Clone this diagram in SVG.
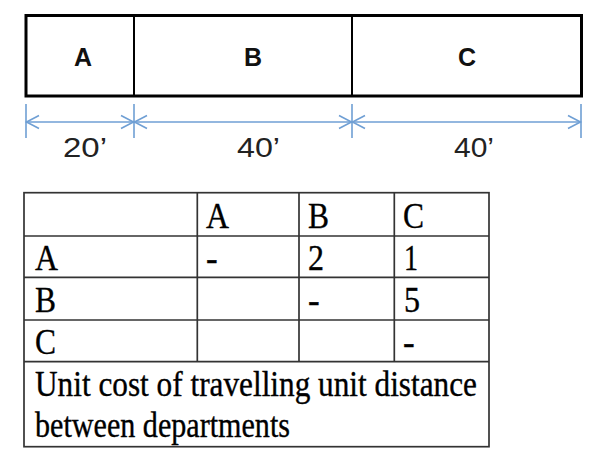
<svg xmlns="http://www.w3.org/2000/svg" width="600" height="462" viewBox="0 0 600 462">
<defs>
<style>
.box{fill:#fff;stroke:#000;stroke-width:3}
.div{stroke:#000;stroke-width:2}
.dim{stroke:#6f9fd4;stroke-width:1.6;fill:none}
.lbl{font-family:"Liberation Sans",Arial,sans-serif;font-weight:bold;font-size:25px;text-anchor:middle;fill:#111}
.dt{font-family:"Liberation Sans",Arial,sans-serif;font-size:27px;text-anchor:middle;fill:#222}
.grid{stroke:#333;stroke-width:1.7;fill:none}
.tt{font-family:"Liberation Serif","Times New Roman",serif;font-size:35px;fill:#000;stroke:#000;stroke-width:0.35}
</style>
</defs>
<rect width="600" height="462" fill="#fff"/>
<g id="layout">
<rect class="box" x="26" y="15.5" width="555.5" height="80.5"/>
<line class="div" x1="134" y1="15.5" x2="134" y2="96"/>
<line class="div" x1="352" y1="15.5" x2="352" y2="96"/>
<text class="lbl" x="83" y="66">A</text>
<text class="lbl" x="253" y="66">B</text>
<text class="lbl" x="467" y="66">C</text>
</g>
<g id="dimensions">
<line class="dim" x1="26" y1="104" x2="26" y2="138"/>
<line class="dim" x1="134" y1="104" x2="134" y2="138"/>
<line class="dim" x1="352" y1="104" x2="352" y2="138"/>
<line class="dim" x1="581" y1="104" x2="581" y2="138"/>
<line class="dim" x1="26" y1="122" x2="581" y2="122"/>
<path class="dim" d="M39,115.5 L26.5,122 L39,128.5"/>
<path class="dim" d="M121,115.5 L133.5,122 L121,128.5"/>
<path class="dim" d="M147,115.5 L134.5,122 L147,128.5"/>
<path class="dim" d="M339,115.5 L351.5,122 L339,128.5"/>
<path class="dim" d="M365,115.5 L352.5,122 L365,128.5"/>
<path class="dim" d="M568,115.5 L580.5,122 L568,128.5"/>
<text class="dt" x="85" y="157" textLength="44" lengthAdjust="spacingAndGlyphs">20’</text>
<text class="dt" x="258.5" y="157" textLength="43" lengthAdjust="spacingAndGlyphs">40’</text>
<text class="dt" x="474" y="157" textLength="40" lengthAdjust="spacingAndGlyphs">40’</text>
</g>
<g id="table">
<rect class="grid" x="24" y="192.7" width="465" height="254"/>
<line class="grid" x1="24" y1="236" x2="489" y2="236"/>
<line class="grid" x1="24" y1="277.3" x2="489" y2="277.3"/>
<line class="grid" x1="24" y1="320" x2="489" y2="320"/>
<line class="grid" x1="24" y1="361.7" x2="489" y2="361.7"/>
<line class="grid" x1="197.3" y1="192.7" x2="197.3" y2="361.7"/>
<line class="grid" x1="299" y1="192.7" x2="299" y2="361.7"/>
<line class="grid" x1="394.3" y1="192.7" x2="394.3" y2="361.7"/>
<text class="tt" x="206" y="228" textLength="23" lengthAdjust="spacingAndGlyphs">A</text>
<text class="tt" x="308" y="228" textLength="21" lengthAdjust="spacingAndGlyphs">B</text>
<text class="tt" x="403" y="228" textLength="21" lengthAdjust="spacingAndGlyphs">C</text>
<text class="tt" x="35" y="270" textLength="23" lengthAdjust="spacingAndGlyphs">A</text>
<text class="tt" x="206" y="270">-</text>
<text class="tt" x="308" y="270" textLength="16" lengthAdjust="spacingAndGlyphs">2</text>
<text class="tt" x="404" y="270" textLength="14" lengthAdjust="spacingAndGlyphs">1</text>
<text class="tt" x="35" y="312" textLength="21" lengthAdjust="spacingAndGlyphs">B</text>
<text class="tt" x="308" y="312">-</text>
<text class="tt" x="404" y="312" textLength="16" lengthAdjust="spacingAndGlyphs">5</text>
<text class="tt" x="35" y="353.5" textLength="21" lengthAdjust="spacingAndGlyphs">C</text>
<text class="tt" x="403" y="353.5">-</text>
<text class="tt" x="35" y="396" textLength="442" lengthAdjust="spacingAndGlyphs">Unit cost of travelling unit distance</text>
<text class="tt" x="35" y="437" textLength="255" lengthAdjust="spacingAndGlyphs">between departments</text>
</g>
</svg>
